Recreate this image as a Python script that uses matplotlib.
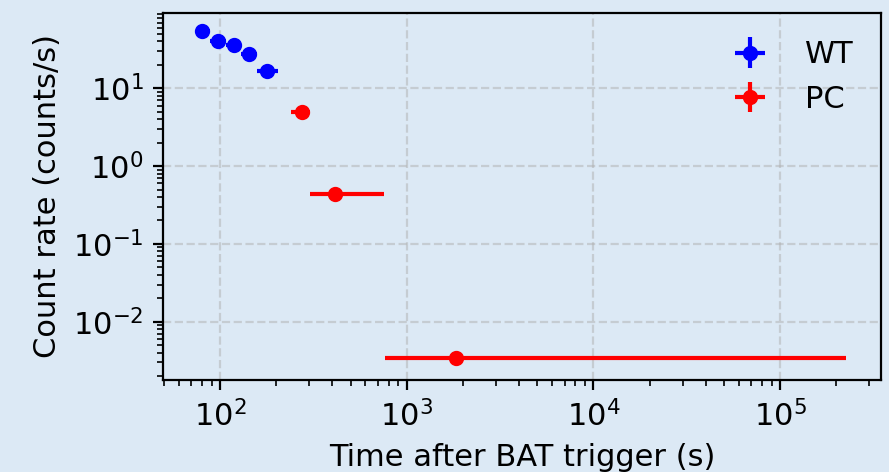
import numpy as np
import matplotlib
matplotlib.use("Agg")
import matplotlib.pyplot as plt

# XRT light curve: windowed timing (WT) and photon counting (PC) bins
wt_time = np.array([79.8, 97.6, 118.8, 143.5, 179.2])
wt_tmin = np.array([74.1, 87.9, 107.7, 129.6, 158.5])
wt_tmax = np.array([87.9, 107.7, 129.6, 158.5, 205.3])
wt_rate = np.array([55.0, 40.9, 36.3, 27.8, 16.8])
wt_err = np.array([3.0, 2.5, 2.2, 1.8, 1.2])

pc_time = np.array([274.8, 413.0, 1828.0])
pc_tmin = np.array([241.0, 303.0, 766.0])
pc_tmax = np.array([303.0, 760.0, 226000.0])
pc_rate = np.array([5.0, 0.434, 0.00344])
pc_err = np.array([0.5, 0.04, 0.0004])

bg = '#dce9f5'
plt.rcParams['font.size'] = 11

fig = plt.figure(figsize=(4.445, 2.36), dpi=200, facecolor=bg)
ax = fig.add_axes([0.1834, 0.195, 0.8076, 0.778])
ax.set_facecolor(bg)

ax.errorbar(wt_time, wt_rate,
            xerr=[wt_time - wt_tmin, wt_tmax - wt_time], yerr=wt_err,
            fmt='o', color='blue', ms=4.5, elinewidth=1.5, capsize=0, label='WT')
ax.errorbar(pc_time, pc_rate,
            xerr=[pc_time - pc_tmin, pc_tmax - pc_time], yerr=pc_err,
            fmt='o', color='red', ms=4.5, elinewidth=1.5, capsize=0, label='PC')

ax.set_xscale('log')
ax.set_yscale('log')
ax.set_xlim(49.5, 3.47e5)
ax.set_ylim(1.78e-3, 93.7)

ax.grid(True, which='major', ls='--', alpha=0.5)
ax.set_xlabel('Time after BAT trigger (s)')
ax.set_ylabel('Count rate (counts/s)')
ax.legend(loc='upper right', frameon=False)

fig.savefig('out.png', dpi=200, facecolor=bg)
